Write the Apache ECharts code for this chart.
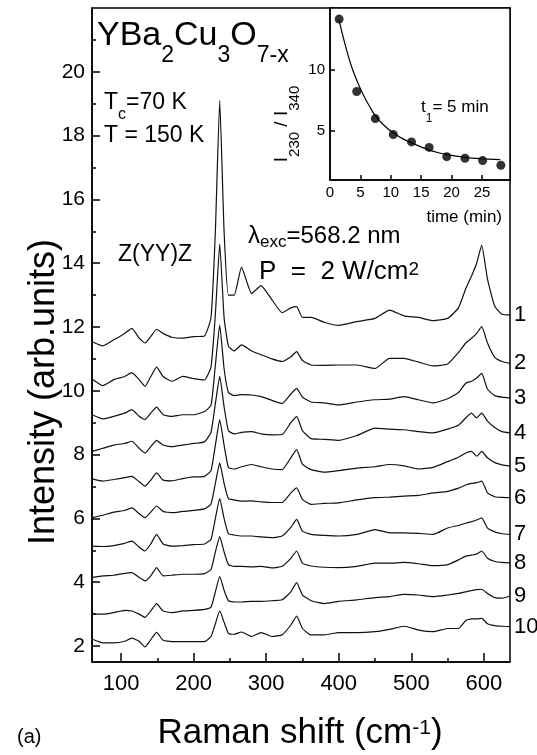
<!DOCTYPE html>
<html>
<head>
<meta charset="utf-8">
<script src="https://cdn.jsdelivr.net/npm/echarts@6/dist/echarts.min.js"></script>
<style>
  html, body { margin: 0; padding: 0; background: #fff; }
  #chart { width: 537px; height: 755px; }
</style>
</head>
<body>
<div id="chart"></div>
<script>
// Raman shift grid (cm-1), shared by all ten spectra
var shift = [60, 75, 90, 105, 115, 125, 133, 141, 149, 158, 170, 185, 200, 215, 224, 230, 236, 242, 248, 256,
    266, 280, 293, 308, 322, 334, 342, 350, 362, 380, 400, 425, 450, 470, 490, 510, 530, 550, 565, 575,
    583, 590, 597, 605, 615, 625, 636];

// spectra 1..10, stacked (arb. units)
var spec1 = [11.54, 11.41, 11.6, 11.8, 11.96, 11.65, 11.5, 11.7, 11.93, 11.8, 11.68, 11.65, 11.7, 11.72, 12.3, 15.0, 19.1, 15.0, 13.0, 13.0,
    13.88, 13.05, 13.3, 12.85, 12.45, 12.6, 12.64, 12.3, 12.3, 12.15, 12.05, 12.17, 12.27, 12.53, 12.35, 12.3, 12.2, 12.27, 12.6, 13.2,
    13.6, 14.0, 14.56, 13.5, 12.65, 12.4, 12.38];
var spec2 = [10.37, 10.16, 10.35, 10.45, 10.57, 10.35, 10.14, 10.45, 10.74, 10.45, 10.3, 10.45, 10.38, 10.34, 10.75, 12.4, 14.6, 12.3, 11.4, 11.25,
    11.44, 11.25, 11.13, 11.0, 10.92, 11.07, 11.23, 10.95, 10.81, 10.8, 10.81, 10.81, 10.7, 11.02, 11.02, 10.9, 10.78, 10.84, 11.2, 11.5,
    11.65, 11.8, 12.01, 11.5, 11.05, 10.92, 10.86];
var spec3 = [9.25, 9.12, 9.2, 9.3, 9.41, 9.2, 9.1, 9.3, 9.49, 9.25, 9.2, 9.25, 9.25, 9.35, 9.55, 10.8, 12.06, 10.7, 9.95, 9.85,
    9.88, 9.87, 9.82, 9.7, 9.6, 9.9, 10.08, 9.8, 9.65, 9.62, 9.56, 9.65, 9.72, 9.74, 9.82, 9.72, 9.62, 9.75, 9.95, 10.24,
    10.3, 10.4, 10.55, 10.05, 9.85, 9.8, 9.77];
var spec4 = [8.1, 8.2, 8.3, 8.35, 8.42, 8.2, 8.05, 8.25, 8.45, 8.3, 8.25, 8.3, 8.35, 8.4, 8.7, 9.6, 10.45, 9.5, 8.75, 8.65,
    8.7, 8.72, 8.65, 8.62, 8.63, 9.0, 9.2, 8.75, 8.5, 8.48, 8.45, 8.6, 8.83, 8.8, 8.78, 8.72, 8.68, 8.8, 8.92, 9.15,
    9.3, 9.15, 9.3, 9.05, 8.85, 8.72, 8.68];
var spec5 = [7.24, 7.17, 7.22, 7.28, 7.32, 7.15, 7.01, 7.2, 7.43, 7.2, 7.18, 7.25, 7.3, 7.32, 7.5, 8.3, 9.09, 8.3, 7.6, 7.55,
    7.62, 7.69, 7.62, 7.55, 7.53, 7.9, 8.16, 7.7, 7.53, 7.45, 7.5, 7.58, 7.62, 7.69, 7.65, 7.55, 7.6, 7.78, 7.92, 8.05,
    8.1, 7.95, 8.1, 7.9, 7.75, 7.68, 7.64];
var spec6 = [6.02, 6.1, 6.2, 6.25, 6.33, 6.15, 6.02, 6.2, 6.39, 6.22, 6.18, 6.22, 6.25, 6.3, 6.45, 7.1, 7.74, 7.1, 6.62, 6.58,
    6.54, 6.55, 6.52, 6.5, 6.5, 6.8, 6.96, 6.6, 6.44, 6.47, 6.49, 6.58, 6.65, 6.67, 6.7, 6.72, 6.8, 6.85, 6.95, 7.05,
    7.1, 7.12, 7.17, 6.8, 6.68, 6.66, 6.65];
var spec7 = [5.13, 5.12, 5.15, 5.22, 5.29, 5.1, 4.98, 5.2, 5.5, 5.2, 5.13, 5.15, 5.18, 5.2, 5.35, 6.0, 6.62, 6.0, 5.52, 5.48,
    5.45, 5.45, 5.42, 5.4, 5.45, 5.72, 5.97, 5.6, 5.5, 5.47, 5.45, 5.5, 5.65, 5.55, 5.55, 5.53, 5.5, 5.7, 5.78, 5.85,
    5.9, 5.95, 6.02, 5.7, 5.58, 5.52, 5.5];
var spec8 = [4.15, 4.2, 4.22, 4.28, 4.3, 4.15, 4.04, 4.2, 4.46, 4.2, 4.22, 4.25, 4.25, 4.27, 4.4, 4.95, 5.43, 4.95, 4.55, 4.5,
    4.5, 4.48, 4.5, 4.45, 4.5, 4.75, 4.98, 4.6, 4.51, 4.47, 4.46, 4.5, 4.6, 4.6, 4.62, 4.58, 4.52, 4.55, 4.7, 4.82,
    4.85, 4.88, 4.98, 4.75, 4.65, 4.62, 4.61];
var spec9 = [3.0, 3.0, 3.05, 3.12, 3.1, 3.0, 2.9, 3.1, 3.33, 3.1, 3.05, 3.1, 3.12, 3.15, 3.22, 3.7, 4.18, 3.75, 3.42, 3.38,
    3.38, 3.4, 3.4, 3.42, 3.45, 3.7, 3.99, 3.6, 3.42, 3.33, 3.4, 3.45, 3.52, 3.55, 3.62, 3.6, 3.55, 3.6, 3.65, 3.7,
    3.74, 3.77, 3.78, 3.65, 3.52, 3.5, 3.57];
var spec10 = [2.22, 2.1, 2.1, 2.15, 2.25, 2.15, 1.97, 2.2, 2.43, 2.18, 2.14, 2.14, 2.14, 2.14, 2.3, 2.7, 3.1, 2.75, 2.4, 2.37,
    2.44, 2.3, 2.42, 2.3, 2.35, 2.66, 2.94, 2.55, 2.35, 2.35, 2.42, 2.42, 2.45, 2.52, 2.62, 2.5, 2.45, 2.55, 2.55, 2.8,
    2.85, 2.85, 2.87, 2.7, 2.64, 2.62, 2.61];

// inset: I230/I340 vs time
var tMeas = [1.5, 4.4, 7.45, 10.4, 13.4, 16.3, 19.2, 22.2, 25.1, 28.1];
var ratioMeas = [14.1, 8.2, 6.0, 4.7, 4.1, 3.65, 2.9, 2.77, 2.58, 2.2];
var tFit = [1.5, 2.5, 3.5, 4.5, 5.5, 6.5, 7.5, 9, 10.5, 12, 14, 16, 18, 20, 22, 24, 26, 28];
var ratioFit = [14.0, 12.0, 10.3, 9.0, 7.9, 7.0, 6.2, 5.4, 4.8, 4.35, 3.9, 3.5, 3.2, 3.0, 2.85, 2.76, 2.7, 2.66];

// tick labels
var yMajor = [2, 4, 6, 8, 10, 12, 14, 16, 18, 20];
var yMinor = [3, 5, 7, 9, 11, 13, 15, 17, 19, 21];
var xMajor = [100, 200, 300, 400, 500, 600];
var xMinor = [150, 250, 350, 450, 550];
var tTicks = [0, 5, 10, 15, 20, 25];
var rTicks = [5, 10];

var FONT = 'Liberation Sans, Arial, sans-serif';

function pairs(xs, ys) {
    var out = [];
    for (var i = 0; i < xs.length; i++) out.push([xs[i], ys[i]]);
    return out;
}

// rich text piece; padTop pushes sub/superscripts down from the line top
function tok(size, padTop) {
    return { fontSize: size, fontFamily: FONT, fill: '#000', verticalAlign: 'top', padding: [padTop || 0, 0, 0, 0] };
}

function txt(x, y, text, rich, opts) {
    opts = opts || {};
    return {
        type: 'text', x: x, y: y, rotation: opts.rot || 0, silent: true, z: 100,
        style: {
            text: text, rich: rich, fill: '#000', font: (opts.size || 22) + 'px ' + FONT,
            align: opts.align || 'left', verticalAlign: opts.va || 'top'
        }
    };
}

function valueAxis(grid, min, max, pos, ticks, len, labels, labelSize, margin, showLine) {
    return {
        type: 'value', gridIndex: grid, min: min, max: max, position: pos,
        axisLine: { show: showLine, onZero: false, lineStyle: { color: '#000', width: 1.5 } },
        axisTick: { show: true, inside: true, length: len, customValues: ticks, lineStyle: { color: '#000', width: 1.5 } },
        axisLabel: labels ? { show: true, customValues: labels, fontSize: labelSize, color: '#000', fontFamily: FONT, margin: margin }
                          : { show: false },
        splitLine: { show: false }
    };
}

var chart = echarts.init(document.getElementById('chart'));

var spectra = [spec1, spec2, spec3, spec4, spec5, spec6, spec7, spec8, spec9, spec10];
var series = [];
for (var k = 0; k < spectra.length; k++) {
    series.push({
        name: String(k + 1), type: 'line', xAxisIndex: 0, yAxisIndex: 0,
        data: pairs(shift, spectra[k]), showSymbol: false, smooth: 0.15, silent: true,
        lineStyle: { color: '#111', width: 1.2 },
        endLabel: { show: true, formatter: '{a}', distance: 4, fontSize: 22, color: '#000', fontFamily: FONT }
    });
}
series.push({
    type: 'line', xAxisIndex: 2, yAxisIndex: 2, data: pairs(tFit, ratioFit),
    showSymbol: false, smooth: true, silent: true, lineStyle: { color: '#000', width: 1.2 }
});
series.push({
    type: 'scatter', xAxisIndex: 2, yAxisIndex: 2, data: pairs(tMeas, ratioMeas),
    symbolSize: 9, silent: true, itemStyle: { color: '#000' }
});

var option = {
    animation: false,
    backgroundColor: '#fff',
    textStyle: { fontFamily: FONT },
    grid: [
        { left: 92, top: 8, width: 418, height: 654, show: true, borderColor: '#000', borderWidth: 1.5, outerBoundsMode: 'none' },
        { left: 330, top: 8, width: 180, height: 172, show: true, borderColor: '#000', borderWidth: 1.5,
          backgroundColor: '#fff', outerBoundsMode: 'none' }
    ],
    xAxis: [
        valueAxis(0, 60, 636, 'bottom', xMajor, 9, xMajor, 22, 11, true),
        valueAxis(0, 60, 636, 'bottom', xMinor, 4, null, 0, 0, false),
        valueAxis(1, 0, 29.6, 'bottom', tTicks, 5, tTicks, 15, 5, true)
    ],
    yAxis: [
        valueAxis(0, 1.5, 22, 'left', yMajor, 8, yMajor, 21, 7, true),
        valueAxis(0, 1.5, 22, 'left', yMinor, 4, null, 0, 0, false),
        valueAxis(1, 1, 15, 'left', rTicks, 5, rTicks, 15, 5, true)
    ],
    series: series,
    graphic: [
        txt(97, 19, '{m|YBa}{s|2}{m|Cu}{s|3}{m|O}{s|7-x}', { m: tok(34), s: tok(23, 25.5) }),
        txt(104, 91.5, '{m|T}{s|c}{m|=70 K}', { m: tok(23), s: tok(16, 15.5) }),
        txt(104, 124.5, 'T = 150 K', null, { size: 23 }),
        txt(118, 243.5, 'Z(YY)Z', null, { size: 23 }),
        txt(248, 224.5, '{m|\u03bb}{s|exc}{m|=568.2 nm}', { m: tok(24), s: tok(17, 9.5) }),
        txt(259, 259, '{m|P  =  2 W/cm}{u|2}', { m: tok(26), u: tok(19, 1.5) }),
        txt(421, 98.5, '{m|t}{s|1}{m|= 5 min}', { m: tok(17), s: tok(12, 14.5) }),
        txt(502, 208.5, 'time (min)', null, { size: 17, align: 'right' }),
        txt(272, 124, '{m|I}{s|230}{m| / I}{s|340}', { m: tok(19), s: tok(15, 15) }, { rot: Math.PI / 2, align: 'center' }),
        txt(44, 392, 'Intensity (arb.units)', null, { size: 36, rot: Math.PI / 2, align: 'center', va: 'middle' }),
        txt(300, 716, '{m|Raman shift (cm}{u|-1}{m|)}', { m: tok(35), u: tok(21, 2) }, { align: 'center' }),
        txt(17, 727, '(a)', null, { size: 20 })
    ]
};

chart.setOption(option);
</script>
</body>
</html>
